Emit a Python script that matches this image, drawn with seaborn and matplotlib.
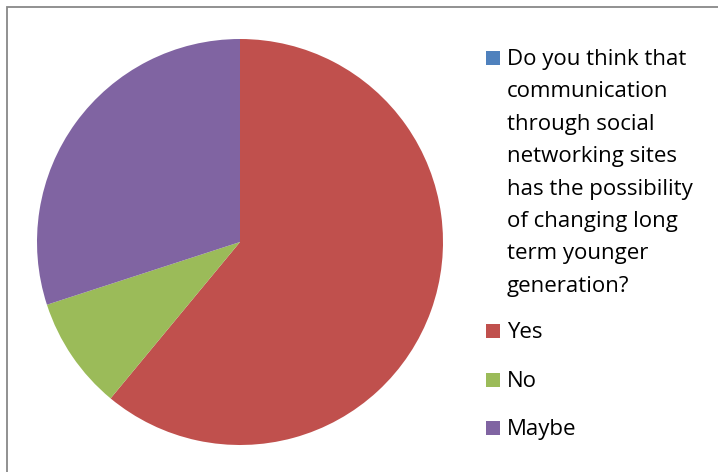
import matplotlib
matplotlib.use("Agg")
import matplotlib.pyplot as plt
import seaborn as sns
from matplotlib.patches import Rectangle

sns.set_theme(style="white")
plt.rcParams["font.family"] = ["Open Sans", "DejaVu Sans"]

# Survey responses (percent of respondents)
question_lines = ["Do you think that", "communication", "through social",
                  "networking sites", "has the possibility", "of changing long",
                  "term younger", "generation?"]
categories = ["Yes", "No", "Maybe"]
values = [61, 9, 30]
colors = ["#C0504D", "#9BBB59", "#8064A2"]
question_color = "#4F81BD"

W, H = 718, 472
fig = plt.figure(figsize=(W / 100, H / 100), dpi=100)
fig.patch.set_facecolor("white")

# Chart-area frame (top and left edges visible)
fig.patches.append(Rectangle((7 / W, -0.1), 1.2, 1.1 - 7 / H, transform=fig.transFigure,
                             fill=False, edgecolor="#888888", linewidth=1.3))

# Pie: centre (240, 242) px, radius 203 px
cx, cy, r = 240, 242, 203
ax = fig.add_axes([(cx - r) / W, (H - cy - r) / H, 2 * r / W, 2 * r / H])
ax.pie(values, colors=colors, startangle=90, counterclock=False, radius=1,
       wedgeprops=dict(linewidth=0))
ax.set_xlim(-1, 1)
ax.set_ylim(-1, 1)
ax.set_aspect("equal")
ax.axis("off")

# Legend: marker squares and labels, positioned by text baseline (px from top)
fs = 16
sq = 14
label_x = 507
marker_x = 486
line_step = 32.4


def legend_entry(lines, color, baseline):
    fig.patches.append(Rectangle((marker_x / W, (H - baseline) / H), sq / W, sq / H,
                                 transform=fig.transFigure, facecolor=color,
                                 edgecolor="none"))
    for i, line in enumerate(lines):
        fig.text(label_x / W, (H - baseline - i * line_step) / H, line, fontsize=fs,
                 color="#000000", ha="left", va="baseline")


legend_entry(question_lines, question_color, 65)
for cat, col, base in zip(categories, colors, [338, 387, 435]):
    legend_entry([cat], col, base)

fig.savefig("out.png", dpi=100, facecolor="white")
